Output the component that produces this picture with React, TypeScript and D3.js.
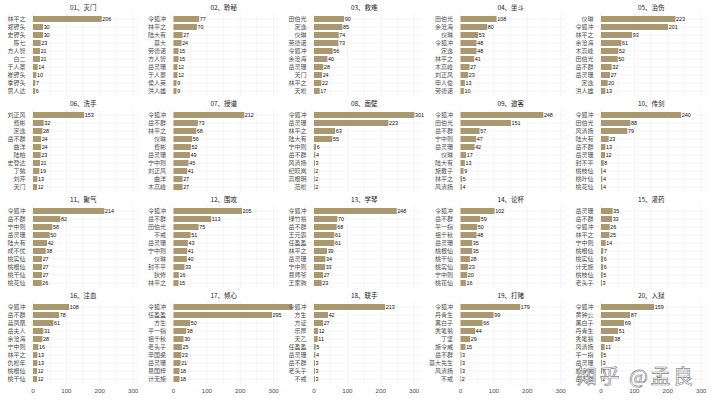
import React from "react";
import * as d3 from "d3";

const chapterTitles = [
  "01、灭门", "02、聆秘", "03、救难", "04、坐斗", "05、治伤",
  "06、洗手", "07、授谱", "08、面壁", "09、邀客", "10、传剑",
  "11、聚气", "12、围攻", "13、学琴", "14、论杯", "15、灌药",
  "16、注血", "17、倾心", "18、联手", "19、打赌", "20、入狱",
];

const chapterNames: string[][] = [
  ["林平之", "郑镖头", "史镖头", "陈七", "方人智", "白二", "于人豪", "崔镖头", "季镖头", "贾人达"],
  ["令狐冲", "林平之", "陆大有", "莫大", "劳德诺", "方人智", "岳灵珊", "于人豪", "侯人英", "洪人雄"],
  ["田伯光", "定逸", "仪琳", "劳德诺", "令狐冲", "余沧海", "岳灵珊", "天门", "林平之", "天松"],
  ["田伯光", "余沧海", "仪琳", "令狐冲", "定逸", "林平之", "木高峰", "刘正风", "申人俊", "劳德诺"],
  ["仪琳", "令狐冲", "林平之", "余沧海", "木高峰", "田伯光", "岳不群", "岳灵珊", "定逸", "洪人雄"],
  ["刘正风", "费彬", "定逸", "岳不群", "曲洋", "陆柏", "史登达", "丁勉", "刘芹", "天门"],
  ["令狐冲", "岳不群", "林平之", "仪琳", "费彬", "岳灵珊", "宁中则", "刘正风", "曲洋", "木高峰"],
  ["令狐冲", "岳灵珊", "林平之", "陆大有", "宁中则", "岳不群", "风清扬", "纪晓岚", "高根明", "范松"],
  ["令狐冲", "田伯光", "岳不群", "宁中则", "岳灵珊", "仪琳", "陆大有", "施戴子", "林平之", "风清扬"],
  ["令狐冲", "田伯光", "风清扬", "陆大有", "岳不群", "岳灵珊", "封不平", "桃枝仙", "桃叶仙", "桃花仙"],
  ["令狐冲", "岳不群", "宁中则", "岳灵珊", "陆大有", "成不忧", "桃实仙", "桃根仙", "桃干仙", "桃花仙"],
  ["令狐冲", "岳不群", "田伯光", "不戒", "岳灵珊", "宁中则", "仪琳", "封不平", "狄修", "林平之"],
  ["令狐冲", "绿竹翁", "岳不群", "王元霸", "任盈盈", "林平之", "岳灵珊", "宁中则", "易师爷", "王家驹"],
  ["令狐冲", "岳不群", "平一指", "祖千秋", "岳灵珊", "桃根仙", "桃干仙", "桃实仙", "宁中则", "桃花仙"],
  ["岳灵珊", "岳不群", "令狐冲", "林平之", "宁中则", "桃根仙", "桃实仙", "计无施", "桃枝仙", "老头子"],
  ["令狐冲", "岳不群", "蓝凤凰", "岳夫人", "余沧海", "宁中则", "林平之", "仇松年", "桃根仙", "桃干仙"],
  ["令狐冲", "任盈盈", "方生", "平一指", "祖千秋", "老头子", "辛国梁", "岳灵珊", "易国梓", "计无施"],
  ["令狐冲", "方生", "方证", "乐厚", "天乙", "任盈盈", "岳灵珊", "岳不群", "老头子", "不戒"],
  ["令狐冲", "丹青生", "黑白子", "秃笔翁", "丁坚", "施令威", "岳不群", "莫大先生", "风清扬", "不戒"],
  ["令狐冲", "黄钟公", "黑白子", "丹青生", "秃笔翁", "风清扬", "平一指", "岳灵珊", "施令威", "岳不群"],
];

const chapterValues: number[][] = [
  [206, 30, 30, 23, 21, 21, 14, 10, 7, 6],
  [77, 70, 27, 24, 15, 15, 12, 12, 9, 9],
  [90, 85, 74, 73, 56, 40, 28, 24, 22, 17],
  [108, 80, 53, 48, 48, 41, 27, 23, 13, 10],
  [223, 201, 93, 61, 52, 50, 32, 27, 20, 13],
  [153, 32, 28, 24, 24, 23, 21, 19, 13, 12],
  [212, 73, 68, 56, 52, 49, 45, 41, 27, 27],
  [301, 223, 63, 55, 6, 4, 3, 2, 2, 2],
  [248, 151, 57, 47, 42, 17, 13, 9, 5, 4],
  [240, 88, 79, 23, 13, 12, 8, 4, 4, 4],
  [214, 82, 58, 50, 42, 38, 27, 27, 27, 26],
  [205, 113, 75, 51, 43, 41, 40, 33, 16, 15],
  [248, 70, 68, 61, 61, 39, 34, 33, 27, 23],
  [102, 59, 50, 48, 35, 35, 28, 23, 20, 16],
  [35, 33, 26, 25, 14, 7, 6, 6, 5, 3],
  [108, 78, 61, 31, 28, 16, 13, 13, 12, 12],
  [355, 295, 50, 38, 30, 25, 23, 21, 18, 18],
  [213, 42, 27, 12, 11, 5, 4, 3, 3, 3],
  [179, 99, 66, 44, 29, 15, 3, 3, 3, 2],
  [159, 87, 69, 51, 38, 11, 5, 3, 3, 2],
];

const xTicks = [0, 100, 200, 300];
const xMinorTicks = [50, 150, 250];

const BAR = "#A99870";
const GRID = "#ebebeb";
const CJK = "'Noto Sans CJK SC', 'Noto Sans', sans-serif";
const LATIN = "'Liberation Sans', Arial, sans-serif";

export default function App() {
  const W = 720;
  const H = 405;
  const nCols = 5;
  const rowPitch = 96;
  const panelTop0 = 14.2;
  const panelH = 81.6;
  const P = 110.5;
  const charW = 6;
  const gap = 9.5;

  const colMaxChars = d3.range(nCols).map((c) =>
    d3.max(chapterNames.filter((_, i) => i % nCols === c).flat(), (s) => s.length) as number
  );
  let cursor = 7.5;
  const colLeft = colMaxChars.map((mc) => {
    const left = cursor + mc * charW + 2.5;
    cursor = left + P + gap;
    return left;
  });
  const nRows = Math.ceil(chapterTitles.length / nCols);
  const xDomain = [-15.05, 316.05];

  return (
    <svg
      width={W}
      height={H}
      style={{ position: "absolute", left: 0, top: 0, background: "#fff" }}
    >
      <rect x={0} y={0} width={W} height={H} fill="#fff" />
      {chapterTitles.map((title, i) => {
        const c = i % nCols;
        const r = Math.floor(i / nCols);
        const left = colLeft[c];
        const top = panelTop0 + r * rowPitch;
        const xs = d3.scaleLinear().domain(xDomain).range([left, left + P]);
        const names = chapterNames[i];
        const vals = chapterValues[i];
        const ys = d3.scalePoint<string>().domain(names).range([top, top + panelH]).padding(0.6);
        return (
          <g key={i}>
            {xMinorTicks.map((t) => (
              <line key={"m" + t} x1={xs(t)} x2={xs(t)} y1={top} y2={top + panelH} stroke={GRID} strokeWidth={0.35} />
            ))}
            {xTicks.map((t) => (
              <line key={"M" + t} x1={xs(t)} x2={xs(t)} y1={top} y2={top + panelH} stroke={GRID} strokeWidth={0.6} />
            ))}
            {names.map((n) => (
              <line key={"h" + n} x1={left} x2={left + P} y1={ys(n)} y2={ys(n)} stroke={GRID} strokeWidth={0.6} />
            ))}
            <text
              x={left + P / 2}
              y={top - 3.8}
              textAnchor="middle"
              fontSize={6.5}
              fontFamily={CJK}
              fill="#1a1a1a"
            >
              {title}
            </text>
            {names.map((n) => (
              <text
                key={"l" + n}
                x={left - 2.5}
                y={(ys(n) as number) + 2.1}
                textAnchor="end"
                fontSize={6}
                fontFamily={CJK}
                fill="#4d4d4d"
              >
                {n}
              </text>
            ))}
            {names.map((n, j) => (
              <rect
                key={"b" + n}
                x={xs(0)}
                y={(ys(n) as number) - 3}
                width={xs(vals[j]) - xs(0)}
                height={6}
                fill={BAR}
              />
            ))}
            {names.map((n, j) =>
              vals[j] <= xDomain[1] ? (
                <text
                  key={"v" + n}
                  x={xs(vals[j]) + 0.6}
                  y={(ys(n) as number) + 1.9}
                  fontSize={5.4}
                  fontFamily={LATIN}
                  fill="#111"
                >
                  {vals[j]}
                </text>
              ) : null
            )}
            {r === nRows - 1 &&
              xTicks.map((t) => (
                <text
                  key={"x" + t}
                  x={xs(t)}
                  y={top + panelH + 9.5}
                  textAnchor="middle"
                  fontSize={6.2}
                  fontFamily={LATIN}
                  fill="#4d4d4d"
                >
                  {t}
                </text>
              ))}
          </g>
        );
      })}
      <text
        x={577}
        y={384}
        fontSize={20}
        fontFamily={CJK}
        fill="#fff"
        fillOpacity={0.9}
        stroke="#8c8c8c"
        strokeWidth={0.7}
        letterSpacing={2.5}
      >
        知乎 @孟良
      </text>
    </svg>
  );
}
